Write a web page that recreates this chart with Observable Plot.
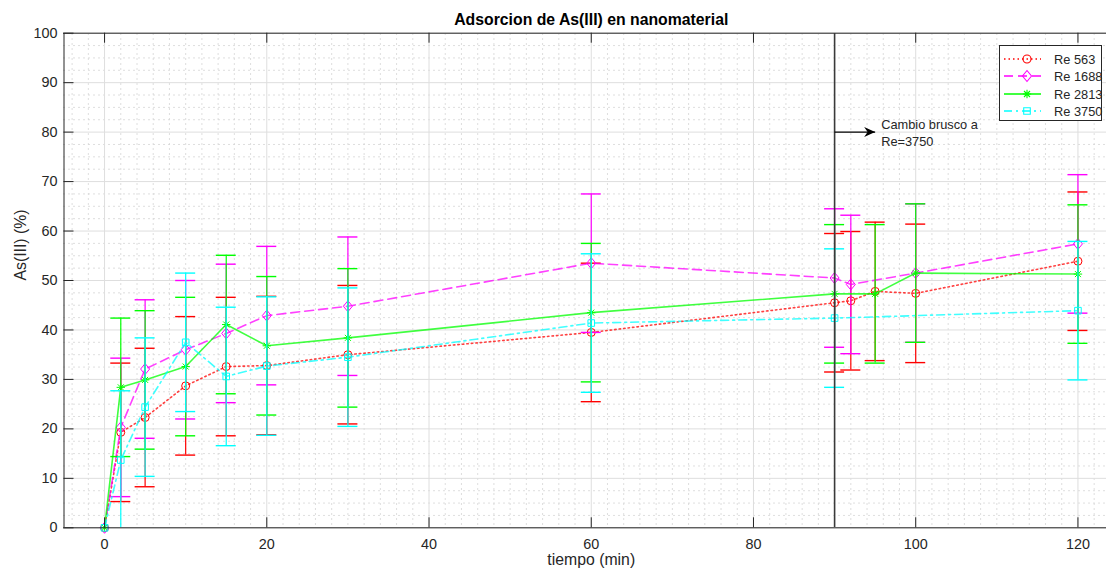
<!DOCTYPE html>
<html><head><meta charset="utf-8">
<script src="https://cdn.jsdelivr.net/npm/d3@7"></script>
<script src="https://cdn.jsdelivr.net/npm/@observablehq/plot@0.6"></script>
<style>
body{margin:0;background:#fff}
#wrap{position:relative;width:1106px;height:573px;font-family:"Liberation Sans",Arial,sans-serif;color:#262626}
#legend{position:absolute;left:999px;top:45px;width:103px;height:76px;box-sizing:border-box;border:1px solid #262626;background:#fff}
.row{position:absolute;left:0;height:16px;display:flex;align-items:center;font-size:12.8px;white-space:nowrap}
.row svg{display:block}
.row span{margin-left:4px}
</style></head>
<body><div id="wrap"><div id="legend"></div></div>
<script>
// ---- data ----
const titleText = "Adsorcion de As(III) en nanomaterial";
const xLabelText = "tiempo (min)";
const yLabelText = "As(III) (%)";
const xDomain = [-5, 125];
const yDomain = [0, 100];
const xTicks = [0, 20, 40, 60, 80, 100, 120];
const yTicks = [0, 10, 20, 30, 40, 50, 60, 70, 80, 90, 100];

const seriesNames = ["Re 563", "Re 1688", "Re 2813", "Re 3750"];

const re563_x   = [0, 2, 5, 10, 15, 20, 30, 60, 90, 92, 95, 100, 120];
const re563_y   = [0, 19.3, 22.3, 28.7, 32.6, 32.8, 35.0, 39.5, 45.5, 45.9, 47.8, 47.4, 53.9];
const re563_err = [0, 14, 14, 14, 14, 14, 14, 14, 14, 14, 14, 14, 14];

const re1688_x   = [0, 2, 5, 10, 15, 20, 30, 60, 90, 92, 100, 120];
const re1688_y   = [0, 20.3, 32.1, 36.0, 39.3, 42.9, 44.8, 53.5, 50.5, 49.2, 51.5, 57.4];
const re1688_err = [0, 14, 14, 14, 14, 14, 14, 14, 14, 14, 14, 14];

const re2813_x   = [0, 2, 5, 10, 15, 20, 30, 60, 90, 95, 100, 120];
const re2813_y   = [0, 28.4, 29.9, 32.6, 41.1, 36.8, 38.4, 43.5, 47.3, 47.3, 51.5, 51.3];
const re2813_err = [0, 14, 14, 14, 14, 14, 14, 14, 14, 14, 14, 14];

const re3750_x   = [0, 2, 5, 10, 15, 20, 30, 60, 90, 120];
const re3750_y   = [0, 13.7, 24.4, 37.5, 30.6, 32.7, 34.5, 41.4, 42.4, 43.9];
const re3750_err = [0, 14, 14, 14, 14, 14, 14, 14, 14, 14];

const changeTime = [90];
const annotation = [{x1: 90, x2: 95, y: 80, text: "Cambio brusco a\nRe=3750"}];

// ---- styles ----
const symCircle = {draw(c){ c.moveTo(4,0); c.arc(0,0,4,0,2*Math.PI); }};
const symDiamond = {draw(c){ c.moveTo(0,-5.5); c.lineTo(4.5,0); c.lineTo(0,5.5); c.lineTo(-4.5,0); c.closePath(); }};
const symAsterisk = {draw(c){ const a=4.2, b=3; c.moveTo(-a,0); c.lineTo(a,0); c.moveTo(0,-a); c.lineTo(0,a); c.moveTo(-b,-b); c.lineTo(b,b); c.moveTo(-b,b); c.lineTo(b,-b); }};
const symSquare = {draw(c){ c.rect(-3.3,-3.3,6.6,6.6); }};
const symArrow = {draw(c){ c.moveTo(0,0); c.lineTo(-11,-5); c.lineTo(-7.5,0); c.lineTo(-11,5); c.closePath(); }};

const series = [
  {name: seriesNames[0], x: re563_x, y: re563_y, err: re563_err, color: "#ff0000", dash: "1.5,3", symbol: symCircle},
  {name: seriesNames[1], x: re1688_x, y: re1688_y, err: re1688_err, color: "#ff00ff", dash: "9,5", symbol: symDiamond},
  {name: seriesNames[2], x: re2813_x, y: re2813_y, err: re2813_err, color: "#00ff00", dash: null, symbol: symAsterisk},
  {name: seriesNames[3], x: re3750_x, y: re3750_y, err: re3750_err, color: "#00ffff", dash: "8,4,2,4", symbol: symSquare}
];

const xMinor = d3.range(-4, 125, 2).filter(v => v % 20 !== 0);
const yMinor = d3.range(2.5, 100, 2.5).filter(v => v % 10 !== 0);
const xMid = (xDomain[0] + xDomain[1]) / 2;

const marks = [
  Plot.ruleX(xMinor, {stroke: "#d6d6d6", strokeDasharray: "2,3", strokeWidth: 0.8}),
  Plot.ruleY(yMinor, {stroke: "#d6d6d6", strokeDasharray: "2,3", strokeWidth: 0.8}),
  Plot.ruleX(xTicks, {stroke: "#dedede"}),
  Plot.ruleY(yTicks, {stroke: "#dedede"})
];

for (const s of series) {
  const rows = s.x.map((x, j) => ({x, y: s.y[j], e: s.err[j]}));
  const eb = rows.filter(d => d.e > 0);
  marks.push(
    Plot.ruleX(eb, {x: "x", y1: d => d.y - d.e, y2: d => d.y + d.e, stroke: s.color, strokeWidth: 1.2, clip: true}),
    Plot.ruleY(eb, {y: d => d.y + d.e, x1: "x", x2: "x", insetLeft: -10, insetRight: -10, stroke: s.color, strokeWidth: 1.4, clip: true}),
    Plot.ruleY(eb, {y: d => d.y - d.e, x1: "x", x2: "x", insetLeft: -10, insetRight: -10, stroke: s.color, strokeWidth: 1.4, clip: true}),
    Plot.line(rows, {x: "x", y: "y", stroke: s.color, strokeWidth: 1.6, strokeDasharray: s.dash, strokeOpacity: 0.75, clip: true}),
    Plot.dot(rows, {x: "x", y: "y", symbol: s.symbol, r: 4, stroke: s.color, fill: "none", strokeWidth: 1})
  );
}

marks.push(
  // axes box
  Plot.ruleY([yDomain[0], yDomain[1]], {stroke: "#262626"}),
  Plot.ruleX([xDomain[0]], {stroke: "#262626"}),
  // inward ticks
  Plot.ruleX(xTicks, {y1: yDomain[0], y2: yDomain[0], insetTop: -10, stroke: "#262626"}),
  Plot.ruleX(xTicks, {y1: yDomain[1], y2: yDomain[1], insetBottom: -10, stroke: "#262626"}),
  Plot.ruleY(yTicks, {x1: xDomain[0], x2: xDomain[0], insetRight: -10, stroke: "#262626"}),
  Plot.axisX({ticks: xTicks, tickSize: 0, tickPadding: 11, label: null, fill: "#262626"}),
  Plot.axisY({ticks: yTicks, tickSize: 0, tickPadding: 6, label: null, fill: "#262626"}),
  // change line and annotation
  Plot.ruleX(changeTime, {stroke: "#3a3a3a", strokeWidth: 1.6}),
  Plot.link(annotation, {x1: "x1", x2: "x2", y1: "y", y2: "y", stroke: "#000", strokeWidth: 1.2}),
  Plot.dot(annotation, {x: "x2", y: "y", symbol: symArrow, r: 4, fill: "#000", stroke: "none"}),
  Plot.text(annotation, {x: "x2", y: "y", text: "text", textAnchor: "start", dx: 6, lineAnchor: "middle", lineHeight: 1.3, fontSize: 12.8, fill: "#262626"}),
  // titles
  Plot.text([titleText], {x: xMid, frameAnchor: "top", lineAnchor: "middle", dy: -14, fontWeight: "bold", fontSize: 15.8, fill: "#000"}),
  Plot.text([xLabelText], {x: xMid, frameAnchor: "bottom", lineAnchor: "middle", dy: 32, fontSize: 15.8, fill: "#262626"}),
  Plot.text([yLabelText], {frameAnchor: "left", dx: -43, rotate: -90, fontSize: 15.8, fill: "#262626"})
);

const chart = Plot.plot({
  width: 1106, height: 573,
  marginLeft: 63, marginTop: 33, marginBottom: 46, marginRight: 0,
  x: {domain: xDomain, range: [63.5, 1118]},
  y: {domain: yDomain, range: [527.3, 32.7]},
  style: {fontFamily: "'Liberation Sans', Arial, sans-serif", fontSize: "14.4px", background: "white", overflow: "hidden"},
  marks
});
const wrap = document.getElementById("wrap");
wrap.insertBefore(chart, wrap.firstChild);

// ---- legend ----
const legend = document.getElementById("legend");
const rowTops = [5, 22, 40, 57];
series.forEach((s, i) => {
  const row = document.createElement("div");
  row.className = "row";
  row.style.top = rowTops[i] + "px";
  const p = d3.path(); s.symbol.draw(p);
  row.innerHTML = `<svg width="50" height="16"><line x1="4" x2="41" y1="8" y2="8" stroke="${s.color}" stroke-width="1.5" ${s.dash ? `stroke-dasharray="${s.dash}"` : ""}/><path transform="translate(27,8)" d="${p.toString()}" fill="none" stroke="${s.color}" stroke-width="1.1"/></svg><span>${s.name}</span>`;
  legend.appendChild(row);
});
</script></body></html>
